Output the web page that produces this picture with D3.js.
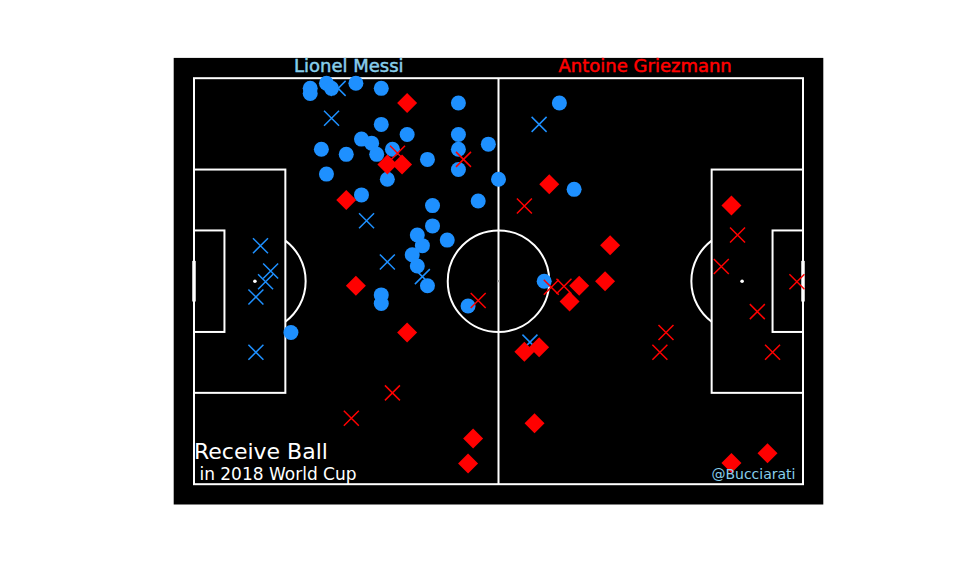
<!DOCTYPE html>
<html>
<head>
<meta charset="utf-8">
<script src="https://cdn.jsdelivr.net/npm/d3@7/dist/d3.min.js"></script>
<style>
  html, body { margin: 0; padding: 0; background: #ffffff; }
  svg { display: block; }
  text { font-family: "DejaVu Sans", sans-serif; }
</style>
</head>
<body>
<svg id="chart" width="972" height="576"></svg>
<script>
// ---- Data (StatsBomb pitch coordinates, 120 x 80) ----
const players = ["Lionel Messi", "Antoine Griezmann"];

// Messi – circles
const messiCircles = [
  [22.9, 2.0], [22.9, 3.0], [26.1, 1.0], [27.1, 2.0], [31.9, 1.0], [36.9, 2.0],
  [52.1, 4.9], [36.9, 9.1], [42.0, 11.1], [33.0, 12.0], [35.0, 12.8], [36.0, 15.0],
  [39.1, 14.0], [25.1, 14.0], [30.0, 15.0], [46.0, 16.0], [52.1, 11.1], [52.1, 14.0],
  [52.1, 18.0], [58.0, 13.0], [60.0, 19.9], [26.1, 18.9], [38.1, 19.9], [33.0, 23.0],
  [47.0, 25.1], [56.0, 24.2], [47.0, 29.1], [44.0, 30.9], [45.0, 33.0], [49.9, 31.9],
  [43.0, 34.8], [44.0, 37.0], [46.0, 40.9], [36.9, 42.7], [36.9, 44.4], [19.1, 50.1],
  [54.0, 44.9], [72.0, 4.9], [74.9, 21.9], [69.0, 40.0]
];
// Messi – crosses
const messiCrosses = [
  [28.4, 2.0], [27.1, 7.9], [34.0, 28.1], [13.1, 33.0], [15.1, 38.0], [14.1, 40.1],
  [12.2, 43.1], [12.2, 54.0], [38.1, 36.2], [45.0, 39.1], [68.0, 9.1], [66.2, 52.0]
];
// Griezmann – diamonds
const griezDiamonds = [
  [42.0, 4.9], [38.1, 17.0], [41.0, 17.0], [30.0, 24.0], [31.9, 40.9], [42.0, 50.1],
  [55.0, 71.0], [54.0, 75.9], [70.0, 20.9], [105.9, 25.1], [82.0, 32.9], [81.0, 40.0],
  [75.9, 40.9], [74.0, 44.0], [65.1, 53.9], [68.0, 53.0], [67.1, 68.0], [105.9, 75.8],
  [113.0, 73.9]
];
// Griezmann – crosses
const griezCrosses = [
  [40.1, 14.8], [53.1, 16.0], [56.0, 43.8], [39.1, 62.0], [31.0, 67.0], [65.1, 25.2],
  [107.1, 30.9], [103.9, 37.1], [118.8, 40.1], [111.0, 46.0], [93.0, 50.1], [91.8, 54.0],
  [114.0, 54.0], [70.4, 41.2], [72.9, 41.0]
];

const titleText = "Receive Ball";
const subtitleText = " in 2018 World Cup";
const creditText = "@Bucciarati";

// ---- Scales ----
const x = d3.scaleLinear().domain([-4, 124]).range([173.7, 823.3]);
const y = d3.scaleLinear().domain([-4, 84]).range([57.9, 504.5]);
const unit = x(1) - x(0);

const svg = d3.select("#chart");

// background
svg.append("rect")
  .attr("x", x(-4)).attr("y", y(-4))
  .attr("width", x(124) - x(-4)).attr("height", y(84) - y(-4))
  .attr("fill", "#000000");

// ---- Pitch ----
const pitch = svg.append("g").attr("fill", "none").attr("stroke", "#ffffff").attr("stroke-width", 2);
const rects = [
  [0, 0, 120, 80],
  [0, 18, 18, 62], [0, 30, 6, 50],
  [102, 18, 120, 62], [114, 30, 120, 50]
];
rects.forEach(r => {
  pitch.append("rect")
    .attr("x", x(r[0])).attr("y", y(r[1]))
    .attr("width", x(r[2]) - x(r[0])).attr("height", y(r[3]) - y(r[1]));
});
pitch.append("line")
  .attr("x1", x(60)).attr("x2", x(60)).attr("y1", y(0)).attr("y2", y(80));
pitch.append("circle")
  .attr("cx", x(60)).attr("cy", y(40)).attr("r", 10 * unit);

// penalty arcs
const arcGen = d3.arc().innerRadius(10 * unit).outerRadius(10 * unit);
const th = Math.acos(6 / 10);
pitch.append("path")
  .attr("transform", `translate(${x(12)},${y(40)})`)
  .attr("d", arcGen({ startAngle: Math.PI / 2 - th, endAngle: Math.PI / 2 + th }));
pitch.append("path")
  .attr("transform", `translate(${x(108)},${y(40)})`)
  .attr("d", arcGen({ startAngle: 3 * Math.PI / 2 - th, endAngle: 3 * Math.PI / 2 + th }));

// goals
[0, 120].forEach(g => {
  pitch.append("line")
    .attr("x1", x(g)).attr("x2", x(g)).attr("y1", y(36)).attr("y2", y(44))
    .attr("stroke-width", 3.5);
});
// spots
svg.append("circle").attr("cx", x(12)).attr("cy", y(40)).attr("r", 1.8).attr("fill", "#ffffff");
svg.append("circle").attr("cx", x(108)).attr("cy", y(40)).attr("r", 1.8).attr("fill", "#ffffff");
svg.append("circle").attr("cx", x(60)).attr("cy", y(40)).attr("r", 1.1).attr("fill", "#aaaaaa");

// ---- Marks ----
const blue = "#1E90FF", red = "#FF0000";

function crosses(data, color) {
  const s = 7.5;
  const g = svg.append("g").attr("stroke", color).attr("stroke-width", 1.5).attr("fill", "none");
  g.selectAll("path").data(data).join("path")
    .attr("d", d => {
      const cx = x(d[0]), cy = y(d[1]);
      return `M${cx - s},${cy - s}L${cx + s},${cy + s}M${cx - s},${cy + s}L${cx + s},${cy - s}`;
    });
}

svg.append("g").selectAll("circle").data(messiCircles).join("circle")
  .attr("cx", d => x(d[0])).attr("cy", d => y(d[1])).attr("r", 7.5).attr("fill", blue);
crosses(messiCrosses, blue);

const dr = 10;
svg.append("g").selectAll("path").data(griezDiamonds).join("path")
  .attr("d", d => {
    const cx = x(d[0]), cy = y(d[1]);
    return `M${cx},${cy - dr}L${cx + dr},${cy}L${cx},${cy + dr}L${cx - dr},${cy}Z`;
  })
  .attr("fill", red);
crosses(griezCrosses, red);

// ---- Text ----
svg.append("text").attr("x", x(30.5)).attr("y", 71.5).attr("text-anchor", "middle")
  .attr("font-size", 18).attr("fill", "#87CEEB")
  .attr("stroke", "#87CEEB").attr("stroke-width", 0.5).text(players[0]);
svg.append("text").attr("x", x(88.9)).attr("y", 71.5).attr("text-anchor", "middle")
  .attr("font-size", 18).attr("fill", "#FF0000")
  .attr("stroke", "#FF0000").attr("stroke-width", 0.5).text(players[1]);

svg.append("text").attr("x", x(0)).attr("y", 458.5)
  .attr("font-size", 22).attr("fill", "#ffffff").text(titleText);
svg.append("text").attr("x", x(0)).attr("y", 479.5)
  .attr("font-size", 17).attr("fill", "#ffffff")
  .attr("xml:space", "preserve").style("white-space", "pre").text(subtitleText);
svg.append("text").attr("x", 795.5).attr("y", 479).attr("text-anchor", "end")
  .attr("font-size", 14).attr("fill", "#87CEEB").text(creditText);
</script>
</body>
</html>
